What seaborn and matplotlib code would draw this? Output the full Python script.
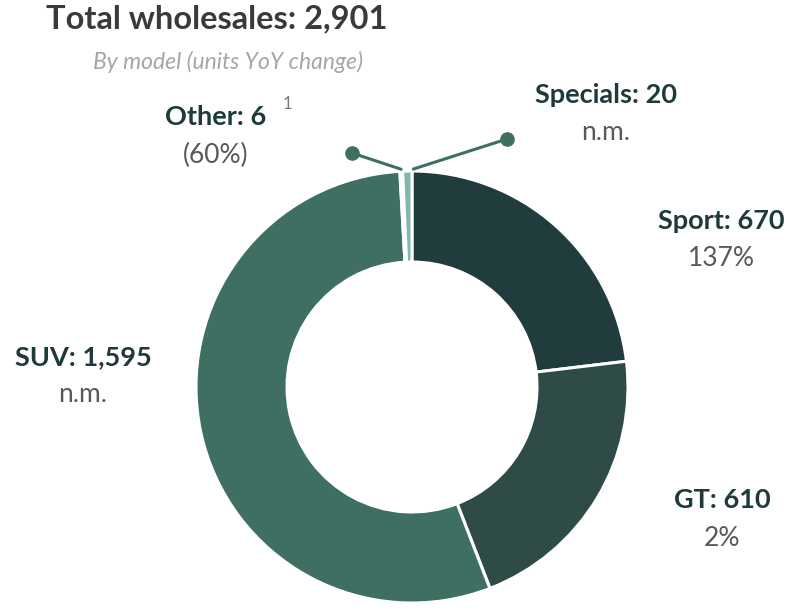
import numpy as np
import matplotlib
matplotlib.use("Agg")
import matplotlib.pyplot as plt
import seaborn as sns

sns.set_theme(style="white")
plt.rcParams['font.family'] = ['Lato', 'DejaVu Sans']

# data (clockwise from 12 o'clock)
models = ['Sport', 'GT', 'SUV', 'Other', 'Specials']
units = [670, 610, 1595, 6, 20]
labels = ['Sport: 670', 'GT: 610', 'SUV: 1,595', 'Other: 6', 'Specials: 20']
yoy = ['137%', '2%', 'n.m.', '(60%)', 'n.m.']
colors = sns.color_palette(['#203c3c', '#2e4b48', '#3f6f63', '#6f9c90', '#7fb8a8'])

W, H = 793, 612
fig = plt.figure(figsize=(W / 100, H / 100), dpi=100)
ax = fig.add_axes([0, 0, 1, 1])
ax.set_xlim(0, W)
ax.set_ylim(0, H)
ax.set_aspect('equal')
ax.axis('off')

cx, cy, R = 412, H - 387, 216
ax.pie(units, colors=colors, startangle=90, counterclock=False,
       center=(cx, cy), radius=R, frame=True,
       wedgeprops=dict(width=91, edgecolor='white', linewidth=2.2))
ax.set_xlim(0, W)
ax.set_ylim(0, H)
ax.axis('off')

title_col = '#3a3a3a'
lab_col = '#1f3a3a'
pct_col = '#595959'

def px(x, y):
    return x, H - y

ax.text(*px(217, 19), 'Total wholesales: 2,901', fontsize=23.5, fontweight='bold',
        color=title_col, ha='center', va='center')
ax.text(*px(228, 62), 'By model (units YoY change)', fontsize=16.5, fontstyle='italic',
        color='#a6a6a6', ha='center', va='center')

# label positions (pixel centres of label text)
label_pos = {
    'Sport': (721, 221),
    'GT': (722, 500),
    'SUV': (83, 357),
    'Other': (216, 117),
    'Specials': (606, 95),
}
for m, lab, p in zip(models, labels, yoy):
    x, y = label_pos[m]
    ax.text(*px(x, y), lab, fontsize=19.5, fontweight='bold', color=lab_col,
            ha='center', va='center')
    ax.text(*px(x, y + 38), p, fontsize=19, color=pct_col,
            ha='center', va='center')
ax.text(*px(287, 104), '1', fontsize=12, color='#7a7a7a', ha='center', va='center')

# leader lines for the thin slices
total = sum(units)
cum = np.cumsum([0] + units) / total
dots = {'Other': (352, 153), 'Specials': (507, 139)}
for i, m in enumerate(models):
    if m not in dots:
        continue
    mid = (cum[i] + cum[i + 1]) / 2
    ang = np.deg2rad(90 - 360 * mid)
    sx, sy = cx + (R + 2) * np.cos(ang), cy + (R + 2) * np.sin(ang)
    if m == 'Specials':
        sx += 6
    dx, dy = px(*dots[m])
    ax.plot([sx, dx], [sy, dy], color='#3f6f63', lw=2.2, solid_capstyle='round')
    ax.plot(dx, dy, 'o', color='#3f6f63', markersize=9.5)

fig.savefig('out.png', dpi=100)
